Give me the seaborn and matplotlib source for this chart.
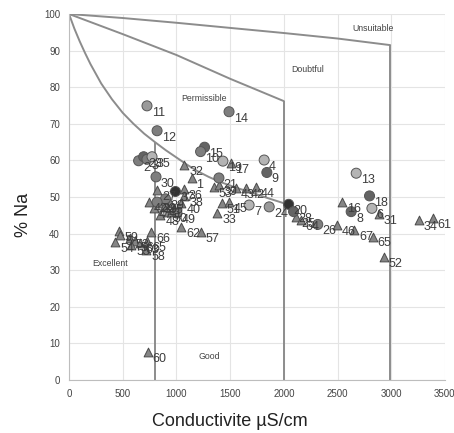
import matplotlib
matplotlib.use("Agg")
import matplotlib.pyplot as plt
import seaborn as sns
import pandas as pd

# Wilcox diagram boundaries (conductivity uS/cm, % Na)
excellent_x = [0, 50, 100, 150, 200, 300, 400, 500, 600, 700, 800, 900, 1000, 1100, 1200,
               1300, 1400, 1550, 1700, 1850, 2000]
excellent_y = [100, 96, 92.5, 89.3, 86.3, 81, 76.7, 73, 70, 67.3, 65, 62.8, 60.8, 58.8, 57,
               55.5, 54.2, 52.6, 51.2, 49.7, 48.3]
doubtful_x = [0, 500, 1000, 1500, 2000]
doubtful_y = [100, 94.5, 88.8, 82.3, 76.2]
unsuitable_x = [0, 500, 1000, 1500, 2000, 2500, 2990]
unsuitable_y = [100, 98.9, 97.6, 96.2, 94.8, 93.3, 91.5]
limit_x = [800, 2000, 2990]
limit_top = [65, 76.2, 91.5]

zone_names = ["Unsuitable", "Doubtful", "Permissible", "Excellent", "Good"]
zone_x = [2835, 2225, 1255, 383, 1308]
zone_y = [96, 84.7, 76.8, 31.7, 6.3]

# samples plotted as circles (group = grey shade)
circ_id = ["11", "12", "14", "15", "10", "19", "2", "23", "3", "35", "30", "37", "29", "22",
           "49", "21", "4", "9", "7", "24", "20", "28", "26", "13", "18", "6", "8"]
circ_ec = [726, 820, 1490, 1262, 1225, 1433, 648, 695, 726, 773, 810, 991, 898, 820,
           1005, 1396, 1817, 1842, 1677, 1864, 2045, 2091, 2316, 2674, 2798, 2820, 2627]
circ_na = [74.9, 68.1, 73.3, 63.6, 62.4, 59.8, 59.9, 61.0, 60.3, 61.0, 55.5, 51.5, 49.5, 48.6,
           45.6, 55.2, 60.1, 56.7, 47.8, 47.3, 48.0, 46.0, 42.5, 56.5, 50.3, 46.9, 46.0]
circ_grp = ["B", "C", "C", "D", "C", "A", "C", "D", "C", "A", "C", "E", "C", "C",
            "C", "C", "A", "D", "A", "B", "E", "D", "C", "A", "D", "A", "D"]

# samples plotted as triangles
tri_id = ["17", "32", "1", "27", "36", "38", "40", "42", "39", "47", "41", "5", "48", "50",
          "53", "39", "43", "42", "44", "33", "51", "45", "16", "46", "67", "65", "52", "31",
          "34", "61", "25", "64", "62", "57", "60", "59", "54", "5", "53", "56", "55", "63",
          "58", "65", "66"]
tri_ec = [1505, 1075, 1141, 820, 1069, 1075, 1047, 742, 835, 789, 882, 944, 851, 925,
          1347, 1395, 1552, 1646, 1739, 1381, 1424, 1490, 2543, 2496, 2658, 2830, 2933, 2883,
          3260, 3385, 2113, 2160, 1044, 1225, 732, 468, 430, 477, 570, 617, 580, 664,
          720, 730, 764]
tri_na = [59.4, 58.7, 55.1, 52.0, 52.1, 50.2, 48.4, 48.7, 48.3, 46.9, 47.3, 48.3, 45.1, 46.0,
          52.8, 53.2, 52.4, 52.5, 52.8, 45.7, 48.4, 48.5, 48.7, 42.4, 41.1, 39.2, 33.7, 45.4,
          43.7, 44.3, 44.6, 43.6, 41.8, 40.3, 7.7, 40.8, 37.8, 39.6, 38.7, 38.0, 36.9, 37.3,
          35.5, 38.0, 40.4]

circles = pd.DataFrame({"id": circ_id, "ec": circ_ec, "na": circ_na, "grp": circ_grp})
triangles = pd.DataFrame({"id": tri_id, "ec": tri_ec, "na": tri_na})

sns.set_style("whitegrid", {"grid.color": "#e4e4e4", "axes.edgecolor": "#bdbdbd"})
plt.rcParams["font.family"] = ["Liberation Sans", "DejaVu Sans"]

fig = plt.figure(figsize=(4.54, 4.33), dpi=100)
ax = fig.add_axes([0.152, 0.1224, 0.828, 0.8453])

line_kw = dict(color="#8c8c8c", lw=1.4, zorder=2)
ax.plot(excellent_x, excellent_y, **line_kw)
ax.plot(doubtful_x, doubtful_y, **line_kw)
ax.plot(unsuitable_x, unsuitable_y, **line_kw)
ax.vlines(limit_x, 0, limit_top, colors="#8c8c8c", lw=1.4, zorder=2)

for name, zx, zy in zip(zone_names, zone_x, zone_y):
    ax.text(zx, zy, name, fontsize=6.3, color="#444444", ha="center", va="center")

shades = {"A": "#b4b4b4", "B": "#9a9a9a", "C": "#7e7e7e", "D": "#646464", "E": "#333333"}
sns.scatterplot(data=triangles, x="ec", y="na", marker="^", s=40, color="#858585",
                edgecolor="#4a4a4a", linewidth=0.7, ax=ax, zorder=3)
sns.scatterplot(data=circles, x="ec", y="na", hue="grp", palette=shades, marker="o", s=52,
                edgecolor="#555555", linewidth=0.7, ax=ax, legend=False, zorder=4)

for df in (triangles, circles):
    for _, r in df.iterrows():
        ax.annotate(r["id"], (r["ec"], r["na"]), xytext=(3.5, -5), textcoords="offset points",
                    fontsize=9, color="#3c3c3c", ha="left", va="center", zorder=5)

ax.set_xlim(0, 3500)
ax.set_ylim(0, 100)
ax.set_xticks(range(0, 3501, 500))
ax.set_yticks(range(0, 101, 10))
ax.tick_params(labelsize=7, colors="#444444", length=3, color="#bdbdbd")
for side in ("top", "right"):
    ax.spines[side].set_visible(False)
ax.set_xlabel("Conductivite µS/cm", fontsize=13, color="#222222")
ax.set_ylabel("% Na", fontsize=13, color="#222222")
ax.xaxis.set_label_coords(0.428, -0.09)
ax.yaxis.set_label_coords(-0.098, 0.45)

fig.savefig("out.png", dpi=100)
